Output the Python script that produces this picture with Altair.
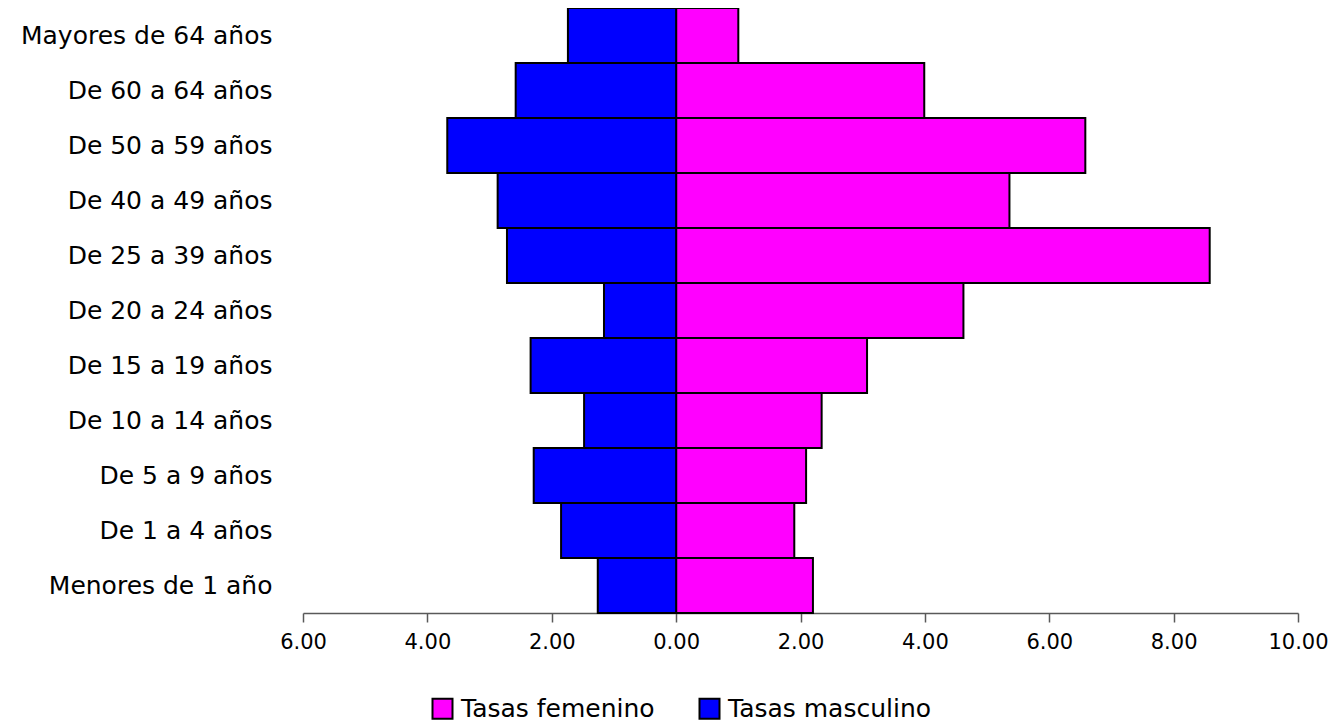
import altair as alt
import pandas as pd

categorias = [
    "Mayores de 64 años", "De 60 a 64 años", "De 50 a 59 años", "De 40 a 49 años",
    "De 25 a 39 años", "De 20 a 24 años", "De 15 a 19 años", "De 10 a 14 años",
    "De 5 a 9 años", "De 1 a 4 años", "Menores de 1 año",
]
tasas_femenino = [1.00, 3.99, 6.58, 5.36, 8.58, 4.62, 3.07, 2.34, 2.09, 1.90, 2.20]
tasas_masculino = [1.74, 2.58, 3.68, 2.87, 2.72, 1.16, 2.34, 1.48, 2.29, 1.85, 1.26]
series = ["Tasas femenino", "Tasas masculino"]
colores = ["#FF00FF", "#0000FF"]

rows = []
for c, f, m in zip(categorias, tasas_femenino, tasas_masculino):
    rows.append({"grupo": c, "serie": series[0], "valor": f})
    rows.append({"grupo": c, "serie": series[1], "valor": -m})
df = pd.DataFrame(rows)

FONT = "DejaVu Sans"

chart = alt.Chart(df).mark_bar(stroke="black", strokeWidth=2).encode(
    x=alt.X(
        "valor:Q",
        scale=alt.Scale(domain=[-6, 10], nice=False, zero=False),
        axis=alt.Axis(
            title=None, values=[-6, -4, -2, 0, 2, 4, 6, 8, 10], grid=False,
            labelExpr="format(abs(datum.value), '.2f')",
            domainColor="#595959", tickColor="#595959", tickSize=9,
            domainWidth=1.5, tickWidth=1.5, labelFlush=False,
            labelFont=FONT, labelFontSize=21, labelColor="#000000", labelPadding=9,
            labelLimit=0,
        ),
    ),
    y=alt.Y(
        "grupo:N", sort=categorias,
        scale=alt.Scale(paddingInner=0, paddingOuter=0),
        axis=alt.Axis(
            title=None, domain=False, ticks=False,
            labelFont=FONT, labelFontSize=25, labelColor="#000000", labelPadding=31,
            labelLimit=0,
        ),
    ),
    color=alt.Color(
        "serie:N",
        scale=alt.Scale(domain=series, range=colores),
        legend=alt.Legend(
            title=None, orient="none", direction="horizontal",
            legendX=127, legendY=688,
            symbolType="square", symbolSize=400, symbolStrokeColor="black",
            symbolStrokeWidth=2, symbolOpacity=1,
            labelFont=FONT, labelFontSize=25, labelColor="#000000",
            labelLimit=0, columnPadding=40, labelOffset=6, padding=0,
        ),
    ),
).properties(
    width=995, height=605,
    autosize=alt.AutoSizeParams(type="none"),
    padding={"left": 295, "top": 0, "right": 30, "bottom": 120},
).configure_view(stroke=None)

chart.save("out.html", embed_options={"renderer": "svg", "actions": False})
